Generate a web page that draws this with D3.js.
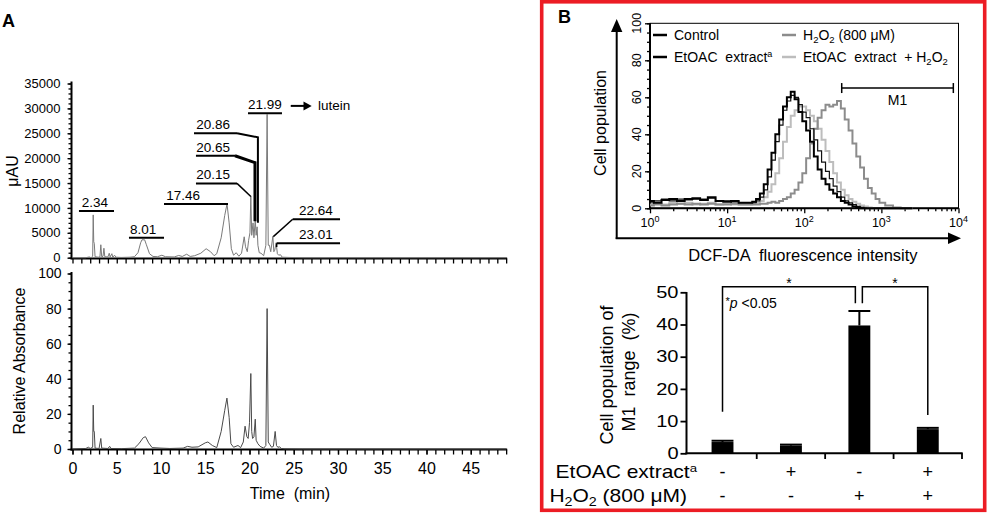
<!DOCTYPE html>
<html><head><meta charset="utf-8">
<script src="https://cdn.jsdelivr.net/npm/d3@7"></script>
<style>
body{margin:0;background:#fff;}
svg{display:block;font-family:"Liberation Sans",Arial,Helvetica,sans-serif;}
text{white-space:pre;fill:#000;}
</style></head><body>
<svg id="c" width="987" height="517"></svg>
<script>
// ---------------- DATA ----------------
// Panel A : HPLC chromatograms  [time (min), signal]
const timeTicks = [0,1,2,3,4,5,6,7,8,9,10,11,12,13,14,15,16,17,18,19,20,21,22,23,24,25,26,27,28,29,30,31,32,33,34,35,36,37,38,39,40,41,42,43,44,45,46,47,48,49];
const timeLabels = [0,5,10,15,20,25,30,35,40,45];
const uauTicks = [0,5000,10000,15000,20000,25000,30000,35000];
const uauMinor = [0,1000,2000,3000,4000,5000,6000,7000,8000,9000,10000,11000,12000,13000,14000,15000,16000,17000,18000,19000,20000,21000,22000,23000,24000,25000,26000,27000,28000,29000,30000,31000,32000,33000,34000,35000];
const relTicks = [0,20,40,60,80,100];
const relMinor = [0,5,10,15,20,25,30,35,40,45,50,55,60,65,70,75,80,85,90,95,100];
const chromUAU = [[0,0],[1.5,0],[1.9,150],[2.1,0],[2.28,300],[2.34,8600],[2.4,3200],[2.46,2900],[2.55,200],[2.9,100],[3.1,150],[3.2,2600],[3.3,200],[3.45,300],[3.55,1900],[3.65,200],[4.0,150],[4.15,900],[4.25,150],[4.45,800],[4.55,100],[4.75,500],[4.9,100],[5.5,50],[6.5,100],[7.0,200],[7.4,1000],[7.7,3000],[7.85,3600],[8.15,3600],[8.35,2600],[8.7,800],[9.1,250],[9.6,200],[10.1,500],[10.5,200],[11.5,150],[12.0,450],[12.4,250],[12.9,700],[13.3,250],[13.8,400],[14.5,900],[15.1,1800],[15.6,1200],[16.0,400],[16.3,800],[16.8,4000],[17.2,8500],[17.46,10800],[17.7,7000],[17.95,1800],[18.2,500],[18.5,1000],[18.8,300],[19.1,900],[19.4,4200],[19.55,2200],[19.75,1200],[19.9,3500],[20.05,5000],[20.15,12400],[20.25,4500],[20.4,7000],[20.5,4000],[20.65,7600],[20.75,4500],[20.86,6200],[20.95,2500],[21.1,1000],[21.3,900],[21.6,400],[21.85,2500],[21.99,28800],[22.12,2500],[22.25,2500],[22.4,1200],[22.64,4300],[22.75,1200],[22.85,1500],[23.01,3000],[23.15,800],[23.3,500],[23.5,600],[23.7,100],[24.5,50],[26,0],[49,0]];
const chromRel = [[0,0],[1.5,0.3],[1.8,1],[2.0,0.3],[2.28,1],[2.34,25],[2.4,10],[2.46,10],[2.55,0.5],[3.0,0.3],[3.2,6],[3.3,0.5],[4.0,0.3],[4.2,1.5],[4.35,0.3],[5.5,0.2],[7.0,0.5],[7.5,3],[8.0,6.5],[8.25,7],[8.6,3.5],[9.0,0.8],[10,0.5],[11,0.3],[12.5,0.5],[13.0,1.5],[13.5,1.0],[14.2,1.2],[15.0,3.5],[15.3,4],[15.8,2],[16.3,0.8],[16.8,10],[17.2,22],[17.45,29],[17.7,18],[17.9,3],[18.2,1],[18.7,2],[19.0,0.8],[19.3,4],[19.5,13],[19.7,7],[19.85,6],[20.0,15],[20.15,43],[20.25,10],[20.35,6],[20.5,7],[20.65,17],[20.75,5],[20.95,3],[21.2,1.5],[21.6,0.5],[21.85,2],[21.99,80],[22.12,4],[22.3,2.5],[22.5,1],[22.7,1.5],[22.9,10],[23.05,2],[23.2,1],[23.4,1.2],[23.6,0.3],[24,0.1],[26,0],[49,0]];
const peakLabels = ["2.34","8.01","17.46","20.15","20.65","20.86","21.99","22.64","23.01"];

// Panel B (top) : flow-cytometry histograms
const fluorBins = [1,1.26,1.58,2.0,2.51,3.16,3.98,5.01,6.31,7.94,10,12.6,15.8,20,22.4,25.1,28.2,31.6,35.5,39.8,44.7,50.1,56.2,63.1,70.8,79.4,89.1,100,112,126,141,158,178,200,224,251,282,316,355,398,447,501,562,631,708,794,891,1000,1259,1585,1995,2512];
const histControl = [4,3,4.5,5,4,5,5.5,4.5,6,4,3.5,4,3,3,3.5,5,8,13,21,30,40,48,55,60,63,59,52,47,42,36,28,21,16,13,10,8,6,4,3,2,1,0.5,0,0,0,0,0,0,0,0,0,0];
const histExtract = [3,4,5,4,5,4.5,5,5,5.5,4,4,3.5,3,3,3,4,6,10,17,26,36,45,53,58,61,60,56,52,49,43,37,31,25,20,16,12,9,6,4,3,2,1,0.5,0,0,0,0,0,0,0,0,0];
const histH2O2 = [1.5,2,1.5,2,2.5,2,2.5,2,2.5,2,2,2.5,2,2,2,2,2.5,2.5,3,3.5,3,4,5,6,8,10,14,19,27,35,43,49,53,56,55,56,58,54,48,42,35,28,22,16,11,8,5,3,1.5,0.5,0,0];
const histExtractH2O2 = [2,2.5,2,3,2.5,3,2,2.5,3,2,2.5,2,2,2,2.5,3,4,6,9,13,19,27,36,44,50,53,55,55,53,50,47,43,37,31,25,19,14,10,7,5,3.5,2.5,1.5,1,0.5,0,0,0,0,0,0,0];
const histTicksY = [0,20,40,60,80,100];
const histMinorY = [0,5,10,15,20,25,30,35,40,45,50,55,60,65,70,75,80,85,90,95,100];
const histDecades = [1,10,100,1000,10000];
const histExponents = ["0","1","2","3","4"];
const m1Range = [306, 8570];
const m1Level = 65;

// Panel B (bottom) : bar chart
const groups = ["g1","g2","g3","g4"];
const extractRow = ["-","+","-","+"];
const h2o2Row = ["-","-","+","+"];
const m1Percent = [3.5, 2.4, 39.7, 7.5];
const m1Error = [0.4, 0.3, 4.5, 0.4];
const barTicks = [0,10,20,30,40,50];

// ---------------- DRAWING ----------------
const svg = d3.select("#c");
function styleAxis(g, fs){
  g.select(".domain").remove();
  g.selectAll("line").attr("stroke","#000").attr("stroke-width",1.3);
  g.attr("font-family",null).attr("font-size",fs||12);
  g.selectAll("text").attr("fill","#000");
}
function subH2O2(t, fs){
  t.append("tspan").text("H");
  t.append("tspan").attr("font-size",fs*0.68).attr("dy",fs*0.22).text("2");
  t.append("tspan").attr("dy",-fs*0.22).text("O");
  t.append("tspan").attr("font-size",fs*0.68).attr("dy",fs*0.22).text("2");
}

// ===== Panel A =====
const x = d3.scaleLinear().domain([0,49]).range([72.5, 72.5+49*8.85]);
const yT = d3.scaleLinear().domain([0,35000]).range([257.7,83.5]);
const yR = d3.scaleLinear().domain([0,100]).range([449,273.5]);
const gA = svg.append("g");
gA.append("text").attr("x",2).attr("y",27).attr("font-size",18).attr("font-weight","bold").text("A");

// top chart axes
gA.append("g").attr("transform","translate(71.5,0)")
  .call(d3.axisLeft(yT).tickValues(uauMinor).tickSize(3).tickFormat("")).call(styleAxis);
gA.append("g").attr("transform","translate(71.5,0)")
  .call(d3.axisLeft(yT).tickValues(uauTicks).tickSize(4).tickPadding(7).tickFormat(d=>d))
  .call(g=>styleAxis(g,13));
gA.append("g").attr("transform","translate(0,258.5)")
  .call(d3.axisBottom(x).tickValues(timeTicks).tickSize(5).tickFormat("")).call(styleAxis);
gA.append("line").attr("x1",71.5).attr("x2",71.5).attr("y1",yT(0)+1.5).attr("y2",81.5).attr("stroke","#000").attr("stroke-width",2);
gA.append("line").attr("x1",70.5).attr("x2",x(49)+1).attr("y1",258.5).attr("y2",258.5).attr("stroke","#000").attr("stroke-width",2);

// bottom chart axes
gA.append("g").attr("transform","translate(71.5,0)")
  .call(d3.axisLeft(yR).tickValues(relMinor).tickSize(3).tickFormat("")).call(styleAxis);
gA.append("g").attr("transform","translate(71.5,0)")
  .call(d3.axisLeft(yR).tickValues(relTicks).tickSize(4).tickPadding(6))
  .call(g=>styleAxis(g,14));
gA.append("g").attr("transform","translate(0,449.5)")
  .call(d3.axisBottom(x).tickValues(timeTicks).tickSize(5).tickFormat("")).call(styleAxis);
gA.append("g").attr("transform","translate(0,449.5)")
  .call(d3.axisBottom(x).tickValues(timeLabels).tickSize(5).tickPadding(8))
  .call(g=>styleAxis(g,16));
gA.append("line").attr("x1",71.5).attr("x2",71.5).attr("y1",yR(0)+1.5).attr("y2",272).attr("stroke","#000").attr("stroke-width",2);
gA.append("line").attr("x1",70.5).attr("x2",x(49)+1).attr("y1",449.5).attr("y2",449.5).attr("stroke","#000").attr("stroke-width",2);

// traces
gA.append("path").datum(chromUAU)
  .attr("d",d3.line().x(d=>x(d[0])).y(d=>yT(d[1])))
  .attr("fill","none").attr("stroke","#7a7a7a").attr("stroke-width",1);
gA.append("path").datum(chromRel)
  .attr("d",d3.line().x(d=>x(d[0])).y(d=>yR(d[1])))
  .attr("fill","none").attr("stroke","#4a4a4a").attr("stroke-width",1);

// axis titles
gA.append("text").attr("transform","translate(12,171) rotate(-90)").attr("text-anchor","middle")
  .attr("dy","0.35em").attr("font-size",16).text("μAU");
gA.append("text").attr("transform","translate(19,361) rotate(-90)").attr("text-anchor","middle")
  .attr("dy","0.35em").attr("font-size",16).text("Relative Absorbance");
gA.append("text").attr("x",290).attr("y",499).attr("text-anchor","middle").attr("font-size",16).text("Time  (min)");

// peak annotations (data coordinates: time, μAU)
const ann = [
  {t:peakLabels[0], x0:0.73, x1:4.69, v:9400, tx:2.54, lead:null},
  {t:peakLabels[1], x0:6.38, x1:10.34, v:4020, tx:7.97, lead:null},
  {t:peakLabels[2], x0:10.34, x1:17.57, v:10790, tx:12.49, lead:null},
  {t:peakLabels[3], x0:13.95, x1:18.59, v:14930, tx:15.88, lead:[[18.59,14930],[20.15,12300]], w:1.5},
  {t:peakLabels[4], x0:13.95, x1:18.36, v:20480, tx:15.88, lead:[[18.36,20480],[20.62,19090],[20.62,7300]], w:3},
  {t:peakLabels[5], x0:13.73, x1:18.59, v:25000, tx:15.88, lead:[[18.59,25000],[20.95,24190],[20.95,7000]], w:2},
  {t:peakLabels[6], x0:19.83, x1:23.67, v:29010, tx:21.75, lead:null},
  {t:peakLabels[7], x0:24.88, x1:30.23, v:7720, tx:27.5, lead:[[24.88,7720],[22.69,4230]], w:1.5},
  {t:peakLabels[8], x0:23.07, x1:30.23, v:2900, tx:27.5, lead:[[23.07,2900],[23.07,2150]], w:1.5}
];
ann.forEach(a=>{
  gA.append("line").attr("x1",x(a.x0)).attr("x2",x(a.x1)).attr("y1",yT(a.v)).attr("y2",yT(a.v))
    .attr("stroke","#000").attr("stroke-width",2);
  gA.append("text").attr("x",x(a.tx)).attr("y",yT(a.v)-4).attr("text-anchor","middle").attr("font-size",13.5).text(a.t);
  if(a.lead){
    gA.append("path").datum(a.lead).attr("d",d3.line().x(d=>x(d[0])).y(d=>yT(d[1])))
      .attr("fill","none").attr("stroke","#000").attr("stroke-width",a.w);
  }
});
// arrow -> lutein
const ay = yT(30500);
gA.append("line").attr("x1",x(24.66)).attr("x2",x(26.3)).attr("y1",ay).attr("y2",ay).attr("stroke","#000").attr("stroke-width",2);
gA.append("path").attr("d",`M${x(27.03)},${ay} L${x(26.1)},${ay-4.5} L${x(26.1)},${ay+4.5} Z`).attr("fill","#000");
gA.append("text").attr("x",x(27.74)).attr("y",ay+4.5).attr("font-size",13.5).text("lutein");

// ===== Panel B =====
const gB = svg.append("g");
gB.append("rect").attr("x",541.7).attr("y",1.8).attr("width",443).attr("height",508.5)
  .attr("fill","none").attr("stroke","#ec1c24").attr("stroke-width",3.6);
gB.append("text").attr("x",558).attr("y",23).attr("font-size",18).attr("font-weight","bold").text("B");

// histogram
const xH = d3.scaleLog().domain([1,10000]).range([650,958.5]);
const yH = d3.scaleLinear().domain([0,100]).range([208.3,23.3]);
gB.append("rect").attr("x",650).attr("y",23.3).attr("width",308.5).attr("height",185)
  .attr("fill","none").attr("stroke","#000").attr("stroke-width",1);
gB.append("g").attr("transform","translate(650,0)")
  .call(d3.axisLeft(yH).tickValues(histMinorY).tickSize(3).tickFormat("")).call(styleAxis);
gB.append("g").attr("transform","translate(650,0)")
  .call(d3.axisLeft(yH).tickValues(histTicksY).tickSize(5).tickFormat("")).call(styleAxis);
const minorLog = [];
histDecades.slice(0,4).forEach(d=>{[2,3,4,5,6,7,8,9].forEach(m=>minorLog.push(d*m));});
gB.append("g").attr("transform","translate(0,208.3)")
  .call(d3.axisBottom(xH).tickValues(minorLog).tickSize(3).tickFormat("")).call(styleAxis);
gB.append("g").attr("transform","translate(0,208.3)")
  .call(d3.axisBottom(xH).tickValues(histDecades).tickSize(5).tickFormat("")).call(styleAxis);
gB.append("line").attr("x1",650).attr("x2",650).attr("y1",209).attr("y2",23).attr("stroke","#000").attr("stroke-width",2);
gB.append("line").attr("x1",649).attr("x2",958.5).attr("y1",208.3).attr("y2",208.3).attr("stroke","#000").attr("stroke-width",2);
histTicksY.forEach(v=>{
  gB.append("text").attr("transform",`translate(637,${yH(v)}) rotate(-90)`).attr("text-anchor","middle")
    .attr("dy","0.35em").attr("font-size",12.5).text(v);
});
histDecades.forEach((d,i)=>{
  const t = gB.append("text").attr("x",xH(d)).attr("y",226.5).attr("text-anchor","middle").attr("font-size",12.5);
  t.append("tspan").text("10");
  t.append("tspan").attr("font-size",9).attr("dy",-5).text(histExponents[i]);
});
const histLine = d3.line().curve(d3.curveStep).x((d,i)=>xH(fluorBins[i])).y(d=>yH(d));
const histSeries = [
  {v:histExtractH2O2, c:"#bdbdbd", w:2},
  {v:histH2O2, c:"#8c8c8c", w:2},
  {v:histExtract, c:"#111", w:1.2},
  {v:histControl, c:"#000", w:2}
];
histSeries.forEach(s=>{
  gB.append("path").datum(s.v).attr("d",histLine).attr("fill","none").attr("stroke",s.c).attr("stroke-width",s.w);
});
// M1 gate
const m1y = yH(m1Level);
gB.append("line").attr("x1",xH(m1Range[0])).attr("x2",xH(m1Range[1])).attr("y1",m1y).attr("y2",m1y).attr("stroke","#000").attr("stroke-width",1.5);
m1Range.forEach(r=>gB.append("line").attr("x1",xH(r)).attr("x2",xH(r)).attr("y1",m1y-5).attr("y2",m1y+5).attr("stroke","#000").attr("stroke-width",1.5));
gB.append("text").attr("x",(xH(m1Range[0])+xH(m1Range[1]))/2).attr("y",m1y+17).attr("text-anchor","middle").attr("font-size",14).text("M1");
// legend
const legRows = [
  {c:"#000", x:653, y:35, lab:"Control"},
  {c:"#000", x:653, y:57, lab:"EtOAC  extract", sup:"a"},
  {c:"#8c8c8c", x:782, y:35, h2o2:true},
  {c:"#bdbdbd", x:782, y:57, mix:true}
];
legRows.forEach(r=>{
  gB.append("line").attr("x1",r.x).attr("x2",r.x+14).attr("y1",r.y).attr("y2",r.y).attr("stroke",r.c).attr("stroke-width",2.5);
  const t = gB.append("text").attr("x",r.x+21).attr("y",r.y+5).attr("font-size",14);
  if(r.lab){ t.append("tspan").text(r.lab); if(r.sup) t.append("tspan").attr("font-size",9).attr("dy",-5).text(r.sup); }
  if(r.h2o2){ subH2O2(t,14); t.append("tspan").attr("dy",-14*0.22).text(" (800 μM)"); }
  if(r.mix){ t.append("tspan").text("EtOAC  extract  + "); subH2O2(t,14); }
});
// arrows
gB.append("line").attr("x1",616.7).attr("x2",616.7).attr("y1",239).attr("y2",30).attr("stroke","#000").attr("stroke-width",2);
gB.append("path").attr("d","M616.7,19 L611,32 L622.4,32 Z").attr("fill","#000");
gB.append("line").attr("x1",615.7).attr("x2",950).attr("y1",238.3).attr("y2",238.3).attr("stroke","#000").attr("stroke-width",2);
gB.append("path").attr("d","M961,238.3 L948,232.6 L948,244 Z").attr("fill","#000");
gB.append("text").attr("transform","translate(600,123) rotate(-90)").attr("text-anchor","middle")
  .attr("dy","0.35em").attr("font-size",16).text("Cell population");
gB.append("text").attr("x",803).attr("y",261).attr("text-anchor","middle").attr("font-size",16.5).text("DCF-DA  fluorescence intensity");

// bar chart
const xB = d3.scaleBand().domain(groups).range([688.3,962]).paddingInner(0.68).paddingOuter(0.34);
const yB = d3.scaleLinear().domain([0,50]).range([453.3,292.3]);
const SX = 1.25;
gB.append("g").attr("transform","translate(686.5,0)")
  .call(d3.axisLeft(yB).tickValues(barTicks).tickSize(6).tickPadding(2))
  .call(g=>{styleAxis(g,16); g.selectAll("line").attr("stroke-width",1.8);
    g.selectAll("text").attr("x",-8/SX).attr("transform",`scale(${SX},1)`);});
gB.append("line").attr("x1",686.5).attr("x2",686.5).attr("y1",454.3).attr("y2",292).attr("stroke","#000").attr("stroke-width",2);
gB.append("line").attr("x1",685.5).attr("x2",962.7).attr("y1",453.3).attr("y2",453.3).attr("stroke","#000").attr("stroke-width",2);
groups.forEach(g=>{
  const bx = xB(g)+xB.bandwidth()/2 + xB.step()/2;
  gB.append("line").attr("x1",bx).attr("x2",bx).attr("y1",453.3).attr("y2",459).attr("stroke","#000").attr("stroke-width",1.8);
});
groups.forEach((g,i)=>{
  gB.append("rect").attr("x",xB(g)).attr("y",yB(m1Percent[i])).attr("width",xB.bandwidth())
    .attr("height",yB(0)-yB(m1Percent[i])).attr("fill","#000");
  const top = yB(m1Percent[i]+m1Error[i]);
  const cx = xB(g)+xB.bandwidth()/2;
  gB.append("line").attr("x1",cx).attr("x2",cx).attr("y1",yB(m1Percent[i])).attr("y2",top).attr("stroke","#000").attr("stroke-width",2);
  gB.append("line").attr("x1",xB(g)).attr("x2",xB(g)+xB.bandwidth()).attr("y1",top).attr("y2",top).attr("stroke","#000").attr("stroke-width",2);
  gB.append("text").attr("x",cx).attr("y",478).attr("text-anchor","middle").attr("font-size",18).text(extractRow[i]);
  gB.append("text").attr("x",cx).attr("y",502).attr("text-anchor","middle").attr("font-size",18).text(h2o2Row[i]);
});
// significance brackets
const c = g=>xB(g)+xB.bandwidth()/2;
const br = [
  {a:c("g1"), b:c("g3")-4, ya:12.9, yb:46.6},
  {a:c("g3")+3, b:c("g4"), ya:46.6, yb:11.9}
];
br.forEach(o=>{
  gB.append("path").attr("d",`M${o.a},${yB(o.ya)} V${yB(51.7)} H${o.b} V${yB(o.yb)}`)
    .attr("fill","none").attr("stroke","#000").attr("stroke-width",1.5);
  gB.append("text").attr("x",(o.a+o.b)/2).attr("y",yB(51.7)+1).attr("text-anchor","middle").attr("font-size",14).text("*");
});
const pt = gB.append("text").attr("x",c("g1")+3).attr("y",yB(46.6)+5).attr("font-size",14);
pt.append("tspan").attr("font-size",11).attr("dy",-3).text("*");
pt.append("tspan").attr("dy",3).attr("font-style","italic").text("p");
pt.append("tspan").text(" <0.05");
// axis title (two lines)
gB.append("text").attr("transform","translate(607,375) rotate(-90)").attr("text-anchor","middle")
  .attr("dy","0.35em").attr("font-size",18).text("Cell population of");
gB.append("text").attr("transform","translate(628.5,372) rotate(-90)").attr("text-anchor","middle")
  .attr("dy","0.35em").attr("font-size",18).text("M1  range  (%)");
// row labels
const r1 = gB.append("text").attr("transform",`translate(697,478) scale(1.2,1)`).attr("text-anchor","end").attr("font-size",17.5);
r1.append("tspan").text("EtOAC extract");
r1.append("tspan").attr("font-size",11).attr("dy",-6).text("a");
const r2 = gB.append("text").attr("transform",`translate(687,502) scale(1.2,1)`).attr("text-anchor","end").attr("font-size",17.5);
subH2O2(r2,17.5);
r2.append("tspan").attr("dy",-17.5*0.22).text(" (800 μM)");
</script>
</body></html>
